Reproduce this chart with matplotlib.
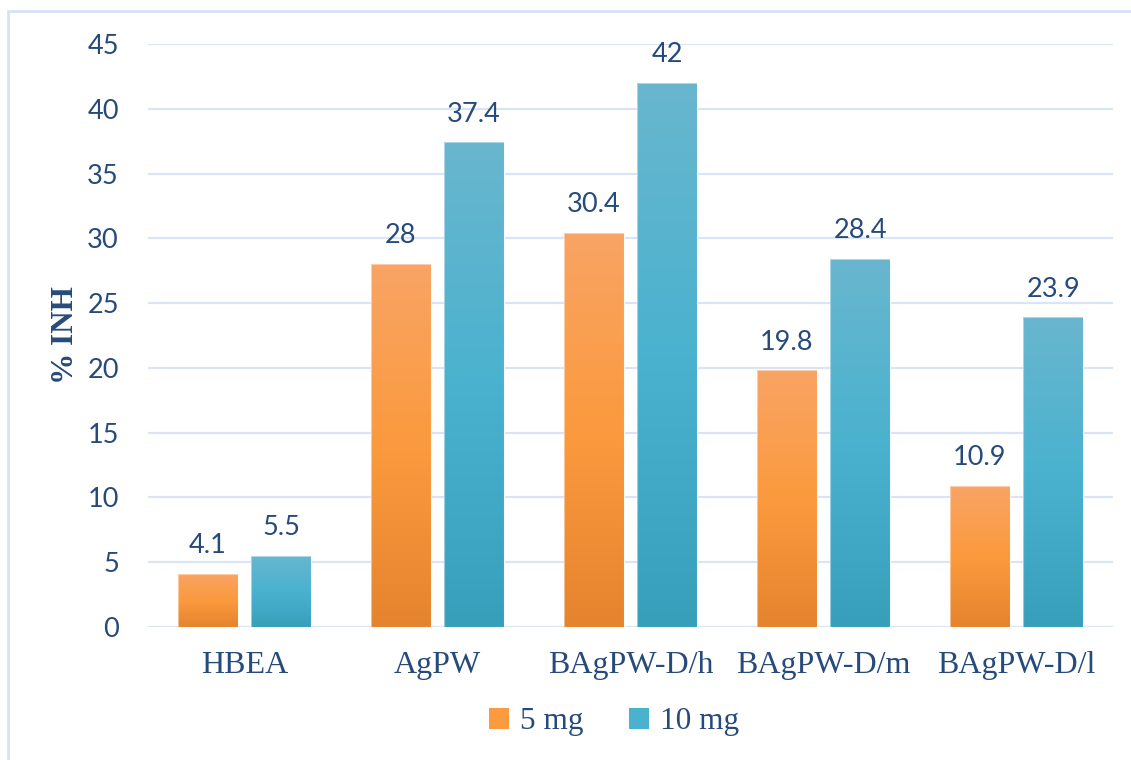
import numpy as np
import matplotlib
matplotlib.use("Agg")
import matplotlib.pyplot as plt
from matplotlib.colors import LinearSegmentedColormap
from matplotlib.patches import Patch, Rectangle

categories = ["HBEA", "AgPW", "BAgPW-D/h", "BAgPW-D/m", "BAgPW-D/l"]
series_names = ["5 mg", "10 mg"]
inh_5mg = [4.1, 28, 30.4, 19.8, 10.9]
inh_10mg = [5.5, 37.4, 42, 28.4, 23.9]
y_ticks = [0, 5, 10, 15, 20, 25, 30, 35, 40, 45]

text_color = "#264B7A"
grid_color = "#D9E4F4"
# bottom, middle, top colours of each vertical gradient
orange_stops = ["#E5842E", "#FB9A3E", "#F9A465"]
blue_stops = ["#389FBB", "#4AB2CF", "#69B6CE"]

sans = ["Lato", "DejaVu Sans"]
serif = ["Liberation Serif", "DejaVu Serif"]

fig = plt.figure(figsize=(11.31, 7.6), dpi=100)
ax = fig.add_axes([148 / 1131, 1 - 627 / 760, (1113 - 148) / 1131, (627 - 44) / 760])

# light frame round the chart area
fig.patches.append(Rectangle((8 / 1131, -0.05), 1.1, 1 - 11 / 760 + 0.05,
                             transform=fig.transFigure, fill=False,
                             edgecolor="#D6E3F3", linewidth=2.0, zorder=0))

x = np.arange(len(categories))
width = 0.31
offset = 0.19

ax.set_xlim(-0.5, len(categories) - 0.5)
ax.set_ylim(0, 45)

grad = np.linspace(0, 1, 256).reshape(-1, 1)


def gradient_bars(xpos, values, stops):
    cmap = LinearSegmentedColormap.from_list("g", list(zip([0, 0.5, 1], stops)))
    bars = ax.bar(xpos, values, width, color=stops[1], edgecolor="#FFFFFF",
                  linewidth=0.6, zorder=3)
    for b in bars:
        x0, y0 = b.get_x(), b.get_y()
        w, h = b.get_width(), b.get_height()
        im = ax.imshow(grad, cmap=cmap, origin="lower", aspect="auto",
                       extent=(x0, x0 + w, y0, y0 + h), zorder=3.5,
                       interpolation="bilinear")
        im.set_clip_path(b)
        edge = Rectangle((x0, y0), w, h, fill=False, edgecolor=(1, 1, 1, 0.45),
                         linewidth=0.8, zorder=3.6)
        ax.add_patch(edge)
    for xi, v in zip(xpos, values):
        ax.annotate(f"{v:g}", (xi, v), xytext=(0, 15), textcoords="offset points",
                    ha="center", va="baseline", fontsize=19.5, color=text_color,
                    family=sans, zorder=5)
    return bars


gradient_bars(x - offset, inh_5mg, orange_stops)
gradient_bars(x + offset, inh_10mg, blue_stops)

ax.set_xlim(-0.5, len(categories) - 0.5)
ax.set_ylim(0, 45)

ax.set_yticks(y_ticks)
ax.set_yticklabels([str(t) for t in y_ticks], family=sans, fontsize=19.5, color=text_color)
ax.set_xticks(x)
ax.set_xticklabels(categories, family=serif, fontsize=23, color=text_color)
ax.tick_params(axis="both", length=0)
ax.tick_params(axis="y", pad=21)
ax.tick_params(axis="x", pad=17)

ax.grid(axis="y", color=grid_color, linewidth=1.6, zorder=0)
ax.set_axisbelow(True)
for s in ax.spines.values():
    s.set_visible(False)

ax.set_ylabel("% INH", family=serif, fontsize=22.5, fontweight="bold", color=text_color,
              labelpad=5)

handles = [Patch(facecolor=orange_stops[1]), Patch(facecolor=blue_stops[1])]
leg = fig.legend(handles, series_names, loc="center", bbox_to_anchor=(614 / 1131, 1 - 722 / 760),
                 ncol=2, frameon=False, prop={"family": serif, "size": 22.5},
                 handlelength=0.65, handleheight=0.65, handletextpad=0.35,
                 columnspacing=1.45, labelcolor=text_color)

fig.savefig("out.png", dpi=100, facecolor="white")
